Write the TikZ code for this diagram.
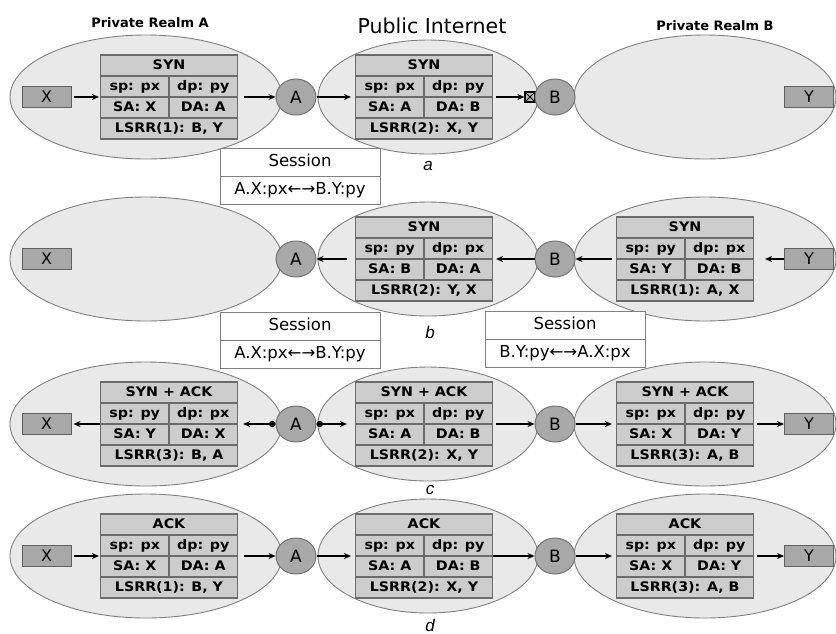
\documentclass[tikz,border=0pt]{standalone}
\usepackage{fontspec}
\setmainfont{DejaVu Sans}
\newfontfamily\capfont{Liberation Sans}
\newfontfamily\cellfont[FakeStretch=1.08]{DejaVu Sans}
\usetikzlibrary{shapes.geometric,arrows.meta}

\definecolor{realmfill}{gray}{0.915}
\definecolor{realmline}{gray}{0.50}
\definecolor{cellfill}{gray}{0.80}
\definecolor{cellline}{gray}{0.42}
\definecolor{hostfill}{gray}{0.66}
\definecolor{hostline}{gray}{0.38}
\definecolor{natfill}{gray}{0.66}
\definecolor{natline}{gray}{0.45}

\tikzset{
  realm/.style={ellipse, draw=realmline, fill=realmfill, line width=0.9pt, inner sep=0pt},
  leftrealm/.style={realm, minimum width=272pt, minimum height=124pt},
  midrealm/.style={realm, minimum width=220pt, minimum height=114pt},
  rightrealm/.style={realm, minimum width=262pt, minimum height=124pt},
  cell/.style={rectangle, draw=cellline, fill=cellfill, line width=1.1pt, inner sep=0pt,
    minimum height=21pt, text height=9.5pt, text depth=2.5pt,
    font=\cellfont\bfseries\fontsize{13.2}{13.2}\selectfont},
  frame/.style={rectangle, draw=cellline, line width=1.1pt, inner sep=0pt,
    minimum width=137pt, minimum height=84pt},
  hostbox/.style={rectangle, draw=hostline, fill=hostfill, line width=1pt,
    minimum width=49pt, minimum height=21pt, inner sep=0pt,
    text height=11pt, text depth=0pt, font=\fontsize{16}{16}\selectfont},
  nat/.style={ellipse, draw=natline, fill=natfill, line width=1pt,
    minimum width=40pt, minimum height=36pt, inner sep=0pt,
    font=\fontsize{17}{17}\selectfont},
  blocked/.style={rectangle, draw=black, fill=gray!55, line width=1.3pt,
    minimum size=10pt, inner sep=0pt,
    path picture={\draw[black, line width=1pt]
      (path picture bounding box.south west) -- (path picture bounding box.north east)
      (path picture bounding box.north west) -- (path picture bounding box.south east);}},
  flow/.style={-{Stealth[length=7pt,width=6pt]}, line width=1.6pt, black},
  dotflow/.style={{Circle[length=6.5pt]}-{Stealth[length=7pt,width=6pt]}, line width=1.6pt, black},
  sesscell/.style={rectangle, draw=realmline, fill=white, line width=1pt, inner sep=0pt,
    minimum width=160pt, minimum height=28pt, text height=12pt, text depth=3.5pt,
    font=\fontsize{16.5}{16.5}\selectfont},
  realmtitle/.style={font=\bfseries\fontsize{13}{13}\selectfont, inner sep=0pt},
  nettitle/.style={font=\fontsize{20.5}{20.5}\selectfont, inner sep=0pt},
  steplabel/.style={font=\capfont\itshape\fontsize{17}{17}\selectfont, inner sep=0pt},
}

% A packet table: name, centre, header, sp, dp, SA, DA, LSRR
\newcommand\packet[8]{%
  \begin{scope}[shift={(#2)}]
    \node[cell, minimum width=137pt] (#1-h) at (0,-31.5) {#3};
    \node[cell, minimum width=68.5pt] (#1-sp) at (-34.25,-10.5) {#4};
    \node[cell, minimum width=68.5pt] (#1-dp) at (34.25,-10.5) {#5};
    \node[cell, minimum width=68.5pt] (#1-sa) at (-34.25,10.5) {#6};
    \node[cell, minimum width=68.5pt] (#1-da) at (34.25,10.5) {#7};
    \node[cell, minimum width=137pt] (#1-lsrr) at (0,31.5) {#8};
    \node[frame] (#1) at (0,0) {};
  \end{scope}}

% A session table: name, centre, binding
\newcommand\session[3]{%
  \begin{scope}[shift={(#2)}]
    \node[sesscell] (#1-t) at (0,-14) {Session};
    \node[sesscell] (#1-b) at (0,14) {#3};
  \end{scope}}

\begin{document}
\begin{tikzpicture}[x=1pt, y=-1pt]
\useasboundingbox (0,0) rectangle (836,633);

% headings
\node[realmtitle] (hA) at (150,23) {Private Realm A};
\node[nettitle] (hI) at (432,26) {Public Internet};
\node[realmtitle] (hB) at (715,26) {Private Realm B};

% realms of every step
\foreach \r/\yy in {a/97, b/259, c/424, d/556} {
  \node[leftrealm] (L\r) at (146,\yy) {};
  \node[midrealm] (M\r) at (428,\yy) {};
  \node[rightrealm] (R\r) at (705,\yy) {};
}

% step a: SYN from X, dropped at B
\node[hostbox] (Xa) at (46.5,97) {X};
\packet{pa1}{169,97}{SYN}{sp: px}{dp: py}{SA: X}{DA: A}{LSRR(1): B, Y}
\node[nat] (Aa) at (296,97) {A};
\packet{pa2}{424,97}{SYN}{sp: px}{dp: py}{SA: A}{DA: B}{LSRR(2): X, Y}
\node[blocked] (blk) at (530,97) {};
\node[nat] (Ba) at (555,97) {B};
\node[hostbox] (Ya) at (809,97) {Y};
\draw[flow] ([xshift=2pt]Xa.east) -- ([xshift=-1pt]pa1.west);
\draw[flow] ([xshift=6pt]pa1.east) -- (Aa);
\draw[flow] (Aa) -- ([xshift=-4pt]pa2.west);
\draw[flow] ([xshift=3pt]pa2.east) -- (blk);
\node[steplabel] (capa) at (428,166) {a};

\session{s1}{300,176}{A.X:px←→B.Y:py}

% step b: SYN from Y
\node[hostbox] (Xb) at (46.5,259) {X};
\node[nat] (Ab) at (296,259) {A};
\packet{pb2}{424,259}{SYN}{sp: py}{dp: px}{SA: B}{DA: A}{LSRR(2): Y, X}
\node[nat] (Bb) at (555,259) {B};
\packet{pb3}{685,259}{SYN}{sp: py}{dp: px}{SA: Y}{DA: B}{LSRR(1): A, X}
\node[hostbox] (Yb) at (809,259) {Y};
\draw[flow] (Yb.west) -- ([xshift=11pt]pb3.east);
\draw[flow] ([xshift=-4pt]pb3.west) -- (Bb);
\draw[flow] (Bb) -- ([xshift=3pt]pb2.east);
\draw[flow] ([xshift=-8pt]pb2.west) -- (Ab);
\node[steplabel] (capb) at (430,332) {b};

\session{s2}{300,340.5}{A.X:px←→B.Y:py}
\session{s3}{565,339.5}{B.Y:py←→A.X:px}

% step c: SYN + ACK in both directions
\node[hostbox] (Xc) at (46.5,424) {X};
\packet{pc1}{169,424}{SYN + ACK}{sp: py}{dp: px}{SA: Y}{DA: X}{LSRR(3): B, A}
\node[nat] (Ac) at (296,424) {A};
\packet{pc2}{424,424}{SYN + ACK}{sp: px}{dp: py}{SA: A}{DA: B}{LSRR(2): X, Y}
\node[nat] (Bc) at (555,424) {B};
\packet{pc3}{685,424}{SYN + ACK}{sp: px}{dp: py}{SA: X}{DA: Y}{LSRR(3): A, B}
\node[hostbox] (Yc) at (809,424) {Y};
\draw[flow] (pc1.west) -- ([xshift=2pt]Xc.east);
\draw[dotflow] (Ac) -- ([xshift=5pt]pc1.east);
\draw[dotflow] (Ac) -- ([xshift=-8pt]pc2.west);
\draw[flow] ([xshift=3pt]pc2.east) -- (Bc);
\draw[flow] (Bc) -- ([xshift=-4pt]pc3.west);
\draw[flow] ([xshift=3pt]pc3.east) -- (Yc.west);
\node[steplabel] (capc) at (430,490) {c};

% step d: ACK from X to Y
\node[hostbox] (Xd) at (46.5,556) {X};
\packet{pd1}{169,556}{ACK}{sp: px}{dp: py}{SA: X}{DA: A}{LSRR(1): B, Y}
\node[nat] (Ad) at (296,556) {A};
\packet{pd2}{424,556}{ACK}{sp: px}{dp: py}{SA: A}{DA: B}{LSRR(2): X, Y}
\node[nat] (Bd) at (555,556) {B};
\packet{pd3}{685,556}{ACK}{sp: px}{dp: py}{SA: X}{DA: Y}{LSRR(3): A, B}
\node[hostbox] (Yd) at (809,556) {Y};
\draw[flow] ([xshift=2pt]Xd.east) -- ([xshift=-1pt]pd1.west);
\draw[flow] ([xshift=6pt]pd1.east) -- (Ad);
\draw[flow] (Ad) -- ([xshift=-4pt]pd2.west);
\draw[flow] (pd2.east) -- (Bd);
\draw[flow] (Bd) -- ([xshift=-4pt]pd3.west);
\draw[flow] ([xshift=3pt]pd3.east) -- (Yd.west);
\node[steplabel] (capd) at (430,625) {d};
\end{tikzpicture}
\end{document}
